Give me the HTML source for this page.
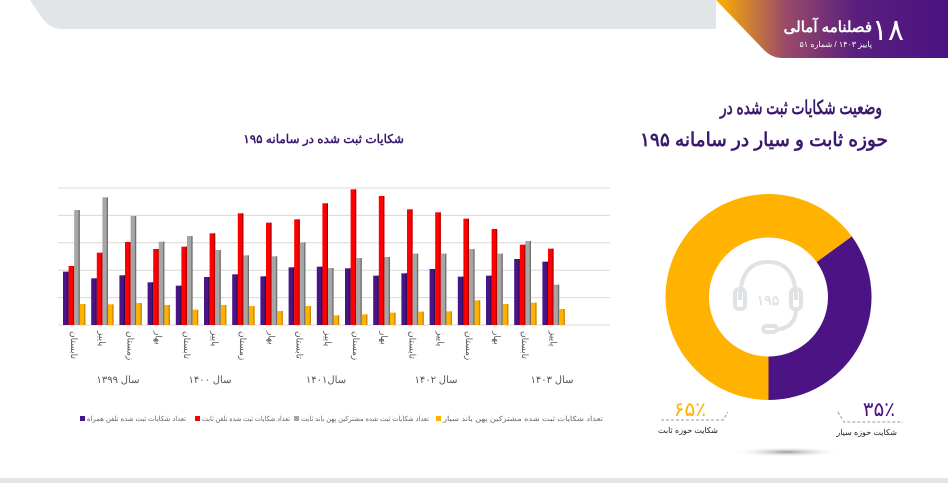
<!DOCTYPE html>
<html><head><meta charset="utf-8">
<style>
html,body{margin:0;padding:0;background:#fff;width:948px;height:483px;overflow:hidden}
svg{display:block}
text{font-family:"Liberation Sans","Noto Sans CJK SC",sans-serif}
</style></head><body>
<svg id="s" width="948" height="483" viewBox="0 0 948 483" xmlns="http://www.w3.org/2000/svg">
<defs>
<linearGradient id="bg" x1="0" y1="0" x2="1" y2="0">
<stop offset="0" stop-color="#ffb000"/><stop offset="0.3" stop-color="#9a4a6a"/><stop offset="0.6" stop-color="#5a1f7e"/><stop offset="1" stop-color="#4a1282"/>
</linearGradient>
<radialGradient id="sh" cx="0.5" cy="0.5" r="0.5"><stop offset="0" stop-color="#999"/><stop offset="1" stop-color="#fff" stop-opacity="0"/></radialGradient>
</defs>
<path d="M30 0 L716 0 L716 29 L62 29 Q50 29 42 18 Z" fill="#e1e5e8"/>
<path d="M716 0 L948 0 L948 58 L782 58 Q772 58 764 50 Z" fill="url(#bg)"/>
<text x="904" y="40" font-size="30" fill="#fff" text-anchor="end">١٨</text>
<text x="872" y="32" font-size="15" font-weight="bold" fill="#fff" text-anchor="end">فصلنامه آمالی</text>
<text x="872" y="47" font-size="8" fill="#fff" text-anchor="end">پاییز ۱۴۰۳ / شماره ۵۱</text>
<rect x="0" y="478" width="948" height="5" fill="#e1e5e8"/>
<text x="882" y="114" font-size="19" font-weight="bold" fill="#3b1a6e" text-anchor="end" textLength="162" lengthAdjust="spacingAndGlyphs">وضعیت شکایات ثبت شده در</text>
<text x="888" y="146" font-size="19" font-weight="bold" fill="#3b1a6e" text-anchor="end" textLength="248" lengthAdjust="spacingAndGlyphs">حوزه ثابت و سیار در سامانه ۱۹۵</text>
<text x="404" y="143" font-size="12" font-weight="bold" fill="#3b1a6e" text-anchor="end">شکایات ثبت شده در سامانه ۱۹۵</text>
<g id="grid" stroke="#d8d8d8" stroke-width="1"></g>
<g id="bars"></g>
<g id="lbl" font-size="9" fill="#555"></g>
<text x="118" y="383" font-size="10" fill="#555" text-anchor="middle">سال ۱۳۹۹</text>
<text x="210" y="383" font-size="10" fill="#555" text-anchor="middle">سال ۱۴۰۰</text>
<text x="326" y="383" font-size="10" fill="#555" text-anchor="middle">سال۱۴۰۱</text>
<text x="436" y="383" font-size="10" fill="#555" text-anchor="middle">سال ۱۴۰۲</text>
<text x="552" y="383" font-size="10" fill="#555" text-anchor="middle">سال ۱۴۰۳</text>
<g font-size="7" fill="#666">
<rect x="80" y="416" width="5" height="5" fill="#4a1485"/><text x="87" y="421" textLength="99" lengthAdjust="spacingAndGlyphs">تعداد شکایات ثبت شده تلفن همراه</text>
<rect x="195" y="416" width="5" height="5" fill="#ff0000"/><text x="202" y="421" textLength="88" lengthAdjust="spacingAndGlyphs">تعداد شکایات ثبت شده تلفن ثابت</text>
<rect x="294" y="416" width="5" height="5" fill="#a6a6a6"/><text x="301" y="421" textLength="128" lengthAdjust="spacingAndGlyphs">تعداد شکایات ثبت شده مشترکین پهن باند ثابت</text>
<rect x="436" y="416" width="5" height="5" fill="#ffb000"/><text x="443" y="421" textLength="160" lengthAdjust="spacingAndGlyphs">تعداد شکایات ثبت شده مشترکین پهن باند سیار</text>
</g>
<path d="M851.8 236.4 A103 103 0 0 1 768.5 400 L768.5 356.5 A59.5 59.5 0 0 0 816.6 262 Z" fill="#4c1384"/>
<path d="M768.5 400 A103 103 0 1 1 851.8 236.4 L816.6 262 A59.5 59.5 0 1 0 768.5 356.5 Z" fill="#ffb200"/>
<g fill="none" stroke="#e0e3e6" stroke-width="4">
<path d="M740 300 Q740 262 768 262 Q796 262 796 300"/>
<rect x="735" y="289" width="10" height="20" rx="4"/>
<rect x="791" y="289" width="10" height="20" rx="4"/>
<path d="M796 309 Q796 328 775 330"/>
<rect x="763" y="326" width="14" height="6" rx="3"/>
</g>
<text x="768" y="305" font-size="14" font-weight="bold" fill="#e0e3e6" text-anchor="middle">۱۹۵</text>
<text x="706" y="416" font-size="20" fill="#ffb200" text-anchor="end">۶۵٪</text>
<path d="M661 420 L723 420 L728 412" stroke="#999" stroke-dasharray="3,2" fill="none"/>
<text x="718" y="433" font-size="8" fill="#222" text-anchor="end">شکایت حوزه ثابت</text>
<text x="895" y="416" font-size="20" fill="#4c1384" text-anchor="end">۳۵٪</text>
<path d="M838 412 L844 422 L903 422" stroke="#999" stroke-dasharray="3,2" fill="none"/>
<text x="897" y="435" font-size="8" fill="#222" text-anchor="end">شکایت حوزه سیار</text>
<ellipse cx="787" cy="452" rx="55" ry="5" fill="url(#sh)"/>
</svg>
<script>
var NS="http://www.w3.org/2000/svg";
function el(p,t,a,txt){var e=document.createElementNS(NS,t);for(var k in a)e.setAttribute(k,a[k]);if(txt)e.textContent=txt;document.getElementById(p).appendChild(e);return e;}
for(var i=0;i<6;i++){var y=188+i*27.4;el("grid","line",{x1:58,y1:y,x2:610,y2:y});}
var d=[[275,258,90,372],[295,218,52,373],[286,186,108,369],[307,207,185,375],[317,200,168,389],[291,160,210,375],[283,100,226,378],[289,128,229,393],[262,118,187,378],[260,70,264,406],[265,28,234,403],[287,48,231,398],[280,88,221,395],[267,97,221,394],[290,116,207,361],[287,147,221,372],[237,194,183,368],[245,206,314,387]];
var col=["#4a1485","#ff0000","#a6a6a6","#ffb000"],dk=["#2e0a58","#b00000","#707070","#c88a00"];
var names=["تابستان","پاییز","زمستان","بهار"];
var base=325;
d.forEach(function(g,i){var x0=63+i*28.2;
 g.forEach(function(v,j){var top=180+v/3,x=x0+j*5.6;
  el("bars","rect",{x:x,y:top,width:5.6,height:base-top,fill:col[j]});
  el("bars","rect",{x:x+4.3,y:top,width:1.3,height:base-top,fill:dk[j]});
 });
 el("lbl","text",{transform:"translate("+(x0+8)+",331) rotate(90)","text-anchor":"start"},names[i%4]);
});
</script>
</body></html>
